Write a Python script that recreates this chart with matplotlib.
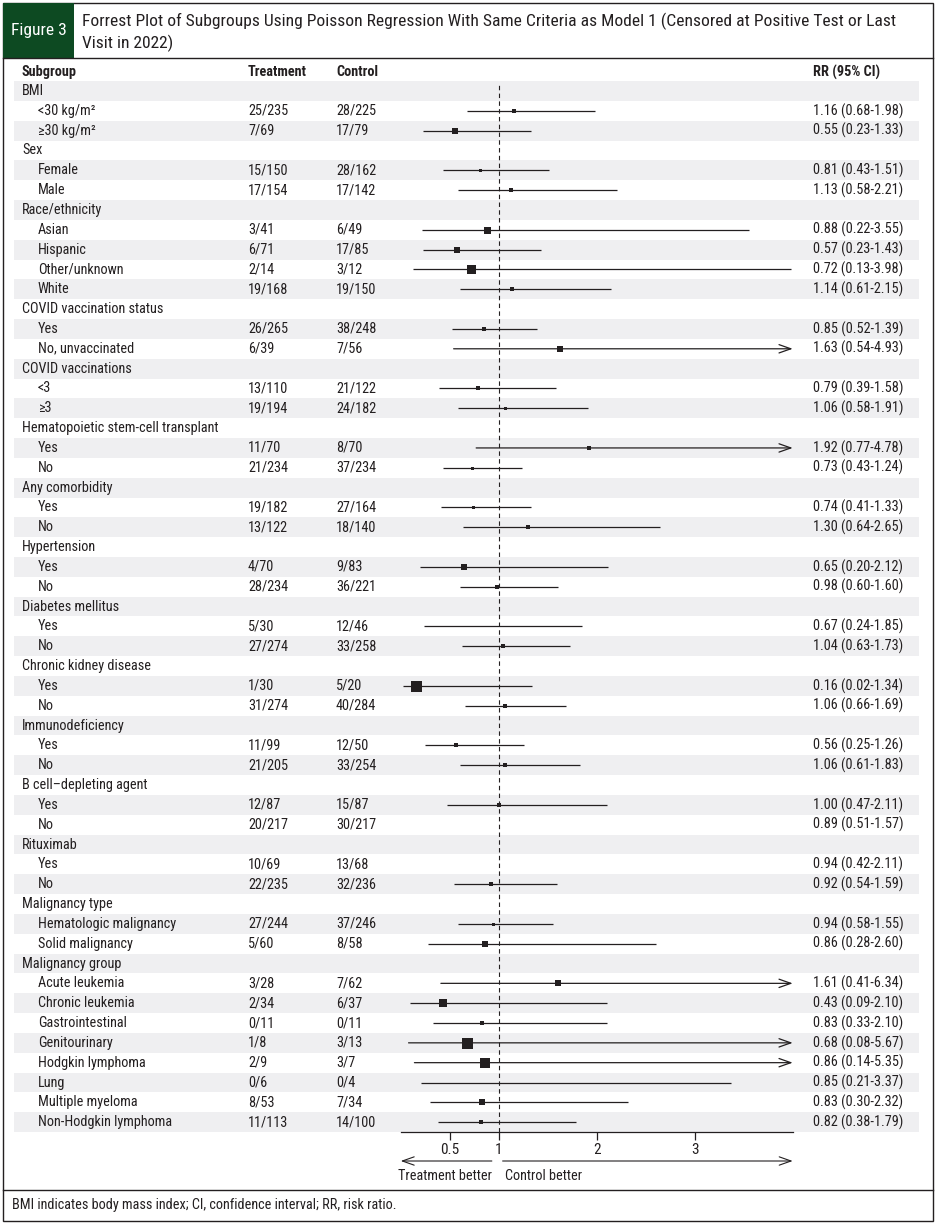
import numpy as np
import matplotlib.pyplot as plt
from matplotlib import font_manager as fm
from matplotlib.patches import Rectangle
from matplotlib.lines import Line2D

# pick a condensed face if one is installed, else Liberation Sans
fonts = fm.fontManager.ttflist
names = {f.name for f in fonts}
narrow = None
for cand in ['Liberation Sans Narrow', 'Roboto Condensed', 'Open Sans Condensed',
             'DejaVu Sans Condensed', 'Noto Sans Condensed']:
    if cand in names:
        narrow = (cand, 'normal')
        break
if narrow is None:
    for f in fonts:
        if f.name in ('DejaVu Sans', 'Noto Sans', 'Open Sans', 'Roboto') and \
                str(f.stretch) in ('condensed', 'semi-condensed', '75', '87.5', 'semicondensed'):
            narrow = (f.name, 'condensed')
            break

if narrow is not None:
    plt.rcParams['font.family'] = [narrow[0], 'DejaVu Sans']
    plt.rcParams['font.stretch'] = narrow[1]
    fs, fs_title, fs_tick = 10.3, 12.6, 11
else:
    plt.rcParams['font.family'] = ['Liberation Sans', 'DejaVu Sans']
    fs, fs_title, fs_tick = 8.8, 10.6, 9.5

# ---- data ----
labels = ['BMI', '<30 kg/m²', '≥30 kg/m²',
          'Sex', 'Female', 'Male',
          'Race/ethnicity', 'Asian', 'Hispanic', 'Other/unknown', 'White',
          'COVID vaccination status', 'Yes', 'No, unvaccinated',
          'COVID vaccinations', '<3', '≥3',
          'Hematopoietic stem-cell transplant', 'Yes', 'No',
          'Any comorbidity', 'Yes', 'No',
          'Hypertension', 'Yes', 'No',
          'Diabetes mellitus', 'Yes', 'No',
          'Chronic kidney disease', 'Yes', 'No',
          'Immunodeficiency', 'Yes', 'No',
          'B cell–depleting agent', 'Yes', 'No',
          'Rituximab', 'Yes', 'No',
          'Malignancy type', 'Hematologic malignancy', 'Solid malignancy',
          'Malignancy group', 'Acute leukemia', 'Chronic leukemia', 'Gastrointestinal',
          'Genitourinary', 'Hodgkin lymphoma', 'Lung', 'Multiple myeloma',
          'Non-Hodgkin lymphoma']
is_group = [1, 0, 0, 1, 0, 0, 1, 0, 0, 0, 0, 1, 0, 0, 1, 0, 0, 1, 0, 0, 1, 0, 0,
            1, 0, 0, 1, 0, 0, 1, 0, 0, 1, 0, 0, 1, 0, 0, 1, 0, 0, 1, 0, 0,
            1, 0, 0, 0, 0, 0, 0, 0, 0]

treatment = ['25/235', '7/69', '15/150', '17/154', '3/41', '6/71', '2/14', '19/168',
             '26/265', '6/39', '13/110', '19/194', '11/70', '21/234', '19/182', '13/122',
             '4/70', '28/234', '5/30', '27/274', '1/30', '31/274', '11/99', '21/205',
             '12/87', '20/217', '10/69', '22/235', '27/244', '5/60',
             '3/28', '2/34', '0/11', '1/8', '2/9', '0/6', '8/53', '11/113']
control = ['28/225', '17/79', '28/162', '17/142', '6/49', '17/85', '3/12', '19/150',
           '38/248', '7/56', '21/122', '24/182', '8/70', '37/234', '27/164', '18/140',
           '9/83', '36/221', '12/46', '33/258', '5/20', '40/284', '12/50', '33/254',
           '15/87', '30/217', '13/68', '32/236', '37/246', '8/58',
           '7/62', '6/37', '0/11', '3/13', '3/7', '0/4', '7/34', '14/100']
rr = [1.16, 0.55, 0.81, 1.13, 0.88, 0.57, 0.72, 1.14,
      0.85, 1.63, 0.79, 1.06, 1.92, 0.73, 0.74, 1.30,
      0.65, 0.98, 0.67, 1.04, 0.16, 1.06, 0.56, 1.06,
      1.00, 0.89, 0.94, 0.92, 0.94, 0.86,
      1.61, 0.43, 0.83, 0.68, 0.86, 0.85, 0.83, 0.82]
lo = [0.68, 0.23, 0.43, 0.58, 0.22, 0.23, 0.13, 0.61,
      0.52, 0.54, 0.39, 0.58, 0.77, 0.43, 0.41, 0.64,
      0.20, 0.60, 0.24, 0.63, 0.02, 0.66, 0.25, 0.61,
      0.47, 0.51, 0.42, 0.54, 0.58, 0.28,
      0.41, 0.09, 0.33, 0.08, 0.14, 0.21, 0.30, 0.38]
hi = [1.98, 1.33, 1.51, 2.21, 3.55, 1.43, 3.98, 2.15,
      1.39, 4.93, 1.58, 1.91, 4.78, 1.24, 1.33, 2.65,
      2.12, 1.60, 1.85, 1.73, 1.34, 1.69, 1.26, 1.83,
      2.11, 1.57, 2.11, 1.59, 1.55, 2.60,
      6.34, 2.10, 2.10, 5.67, 5.35, 3.37, 2.32, 1.79]
ci_text = ['1.16 (0.68-1.98)', '0.55 (0.23-1.33)', '0.81 (0.43-1.51)', '1.13 (0.58-2.21)',
           '0.88 (0.22-3.55)', '0.57 (0.23-1.43)', '0.72 (0.13-3.98)', '1.14 (0.61-2.15)',
           '0.85 (0.52-1.39)', '1.63 (0.54-4.93)', '0.79 (0.39-1.58)', '1.06 (0.58-1.91)',
           '1.92 (0.77-4.78)', '0.73 (0.43-1.24)', '0.74 (0.41-1.33)', '1.30 (0.64-2.65)',
           '0.65 (0.20-2.12)', '0.98 (0.60-1.60)', '0.67 (0.24-1.85)', '1.04 (0.63-1.73)',
           '0.16 (0.02-1.34)', '1.06 (0.66-1.69)', '0.56 (0.25-1.26)', '1.06 (0.61-1.83)',
           '1.00 (0.47-2.11)', '0.89 (0.51-1.57)', '0.94 (0.42-2.11)', '0.92 (0.54-1.59)',
           '0.94 (0.58-1.55)', '0.86 (0.28-2.60)',
           '1.61 (0.41-6.34)', '0.43 (0.09-2.10)', '0.83 (0.33-2.10)', '0.68 (0.08-5.67)',
           '0.86 (0.14-5.35)', '0.85 (0.21-3.37)', '0.83 (0.30-2.32)', '0.82 (0.38-1.79)']
# square side in pixels (0 = no square), and whether CI line is shown
box_px = [4, 6, 3, 4, 7, 6, 9, 4,
          4, 6, 4, 3, 5, 3, 3, 4.5,
          6, 4, 0, 3.5, 11, 3.5, 4, 3.5,
          5, 0, 0, 3.5, 3, 6,
          6.5, 8.5, 5, 11, 10, 0, 5.5, 5]
show_ci = [1] * 25 + [0, 0] + [1] * 11

xmax = 4.0
ticks = [0.5, 1, 2, 3]
tick_labels = ['0.5', '1', '2', '3']

ink = '#231f20'
green = '#0d4a22'
shade = '#efeff1'

W, H = 938, 1225
fig = plt.figure(figsize=(W / 100, H / 100), dpi=100)

def fx(x):
    return x / W

def fy(y):
    return 1 - y / H

# row geometry (pixels): first row centre 91, pitch 19.83
y0, pitch = 91.0, 19.83

bg = fig.add_axes([0, 0, 1, 1])
bg.set_xlim(0, W)
bg.set_ylim((H - y0) / pitch, -y0 / pitch)
bg.axis('off')

n = len(labels)
rows = np.arange(n)
shaded = rows[rows % 2 == 0]
bg.barh(shaded, width=905, left=14, height=1.0, color=shade, zorder=0)

# table text
k = 0
data_rows = []
for r, (lab, g) in enumerate(zip(labels, is_group)):
    bg.text(22 if g else 38, r, lab, va='center', ha='left', fontsize=fs, color=ink)
    if not g:
        bg.text(248, r, treatment[k], va='center', fontsize=fs, color=ink)
        bg.text(336, r, control[k], va='center', fontsize=fs, color=ink)
        bg.text(813, r, ci_text[k], va='center', fontsize=fs, color=ink)
        data_rows.append(r)
        k += 1

hdr_r = (72 - y0) / pitch
for x, t in [(22, 'Subgroup'), (248, 'Treatment'), (336, 'Control'), (813, 'RR (95% CI)')]:
    bg.text(x, hdr_r, t, va='center', fontsize=fs, fontweight='bold', color=ink)

# forest panel
ax_top, ax_bot = 82, 1132
ax = fig.add_axes([fx(400.7), fy(ax_bot), (792.7 - 400.7) / W, (ax_bot - ax_top) / H])
ax.patch.set_alpha(0)
ax.set_xlim(0, xmax)
ax.set_ylim((ax_bot - y0) / pitch, (ax_top - y0) / pitch)
for s in ['top', 'left', 'right']:
    ax.spines[s].set_visible(False)
ax.spines['bottom'].set_linewidth(0.9)
ax.spines['bottom'].set_color(ink)
ax.set_yticks([])
ax.set_xticks(ticks)
ax.set_xticklabels(tick_labels, fontsize=fs_tick, color=ink)
ax.tick_params(axis='x', length=6, width=0.9, direction='out', pad=2, color=ink)

ax.axvline(1, color=ink, lw=0.8, ls=(0, (4, 3)), zorder=1)

data_rows = np.array(data_rows)
for r, m, a, b, sz, ci in zip(data_rows, rr, lo, hi, box_px, show_ci):
    if not ci:
        continue
    if b > xmax:
        ax.annotate('', xy=(xmax, r), xytext=(a, r),
                    arrowprops=dict(arrowstyle='->, head_length=0.85, head_width=0.3',
                                    color=ink, lw=0.9, shrinkA=0, shrinkB=0),
                    annotation_clip=False)
    else:
        ax.plot([a, b], [r, r], color=ink, lw=0.9, solid_capstyle='butt', zorder=2)
    if sz > 0:
        ax.scatter([m], [r], marker='s', s=(sz * 0.72) ** 2, color=ink, lw=0, zorder=3)

# direction arrows under the axis
tr = ax.get_xaxis_transform()
ya = (ax_bot - 1161) / (ax_bot - ax_top)
yl = (ax_bot - 1176) / (ax_bot - ax_top)
ax.annotate('', xy=(0.0, ya), xytext=(0.93, ya), xycoords=tr, textcoords=tr,
            arrowprops=dict(arrowstyle='->, head_length=0.85, head_width=0.3',
                            color=ink, lw=0.8, shrinkA=0, shrinkB=0), annotation_clip=False)
ax.annotate('', xy=(xmax, ya), xytext=(1.04, ya), xycoords=tr, textcoords=tr,
            arrowprops=dict(arrowstyle='->, head_length=0.85, head_width=0.3',
                            color=ink, lw=0.8, shrinkA=0, shrinkB=0), annotation_clip=False)
ax.text(0.93, yl, 'Treatment better', transform=tr, ha='right', va='center',
        fontsize=fs, color=ink)
ax.text(1.06, yl, 'Control better', transform=tr, ha='left', va='center',
        fontsize=fs, color=ink)

# frame, title block and footer
fig.patches.append(Rectangle((fx(3), fy(1221)), fx(930), (1218) / H, transform=fig.transFigure,
                             fill=False, ec=ink, lw=1.0))
fig.patches.append(Rectangle((fx(3), fy(58)), fx(71), 55 / H, transform=fig.transFigure,
                             fc=green, ec='none'))
fig.lines.append(Line2D([fx(3), fx(933)], [fy(58), fy(58)], transform=fig.transFigure,
                        color=ink, lw=1.0))
fig.lines.append(Line2D([fx(3), fx(933)], [fy(1190), fy(1190)], transform=fig.transFigure,
                        color=ink, lw=1.0))
fig.text(fx(38.5), fy(31), 'Figure 3', ha='center', va='center', color='white',
         fontsize=fs_title)
fig.text(fx(82), fy(21), 'Forrest Plot of Subgroups Using Poisson Regression With Same Criteria '
         'as Model 1 (Censored at Positive Test or Last', ha='left', va='center',
         fontsize=fs_title, color=ink)
fig.text(fx(82), fy(43), 'Visit in 2022)', ha='left', va='center', fontsize=fs_title, color=ink)
fig.text(fx(12), fy(1205), 'BMI indicates body mass index; CI, confidence interval; RR, risk ratio.',
         ha='left', va='center', fontsize=fs, color=ink)

fig.savefig('out.png', dpi=100)
